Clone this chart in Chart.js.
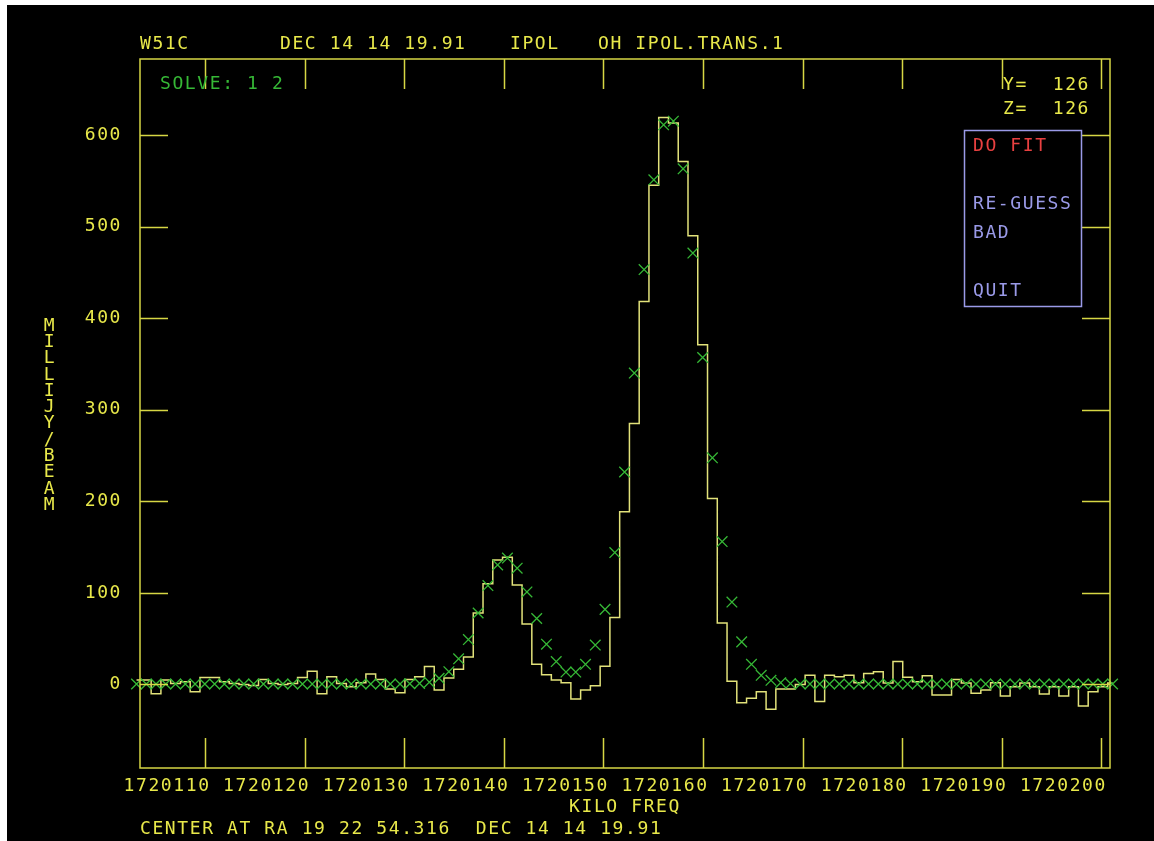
<!DOCTYPE html>
<html>
<head>
<meta charset="utf-8">
<script src="https://cdn.jsdelivr.net/npm/chart.js@4.4.0/dist/chart.umd.min.js"></script>
<style>
  html, body { margin: 0; padding: 0; background: #ffffff; overflow: hidden; }
  #wrap { position: absolute; left: 0; top: 0; width: 1154px; height: 841px; }
</style>
</head>
<body>
<div id="wrap"><canvas id="c" width="1154" height="841"></canvas></div>
<script>
// ---- channel grid (kHz) ----
const channelStart = 1720103.12;   // centre of first channel
const channelWidth = 0.98;         // channel spacing

// ---- observed spectrum (yellow histogram), mJy/beam per channel ----
const spectrum = [
  5, 5, -10, 5, 1, 3, -8, 7.5, 7.5, 3,
  1, 0, -1, 5.5, 1, 0, 1, 7.5, 14.5, -10,
  8.5, 1, -2.5, 2, 11.5, 5.5, -5, -9, 5.5, 8.5,
  19.5, -6, 7, 16.5, 30, 78, 110, 136, 139, 108.5,
  66, 22, 10.5, 5, 2, -16, -6, -1.5, 20, 73,
  188.5, 285, 418, 545, 619, 613, 571, 490, 371, 203,
  67, 3.5, -20, -15, -8, -27, -5, -5, 0, 10,
  -18.5, 10, 8.5, 10, 2, 12, 14, 1.5, 25, 8,
  3, 9.5, -11.5, -11.5, 5.5, 1.5, -9.5, -6, 2, -12.5,
  -2.5, 1.5, -2.5, -10.5, -2.5, -12.5, -2.5, -23.5, -8, -2.5,
  1.5
];

// ---- fitted model (green crosses), mJy/beam per channel ----
const fitModel = [
  0.5, 0.5, 0.5, 0.5, 0.5, 0.5, 0.5, 0.5, 0.5, 0.5,
  0.5, 0.5, 0.5, 0.5, 0.5, 0.5, 0.5, 0.5, 0.5, 0.5,
  0.5, 0.5, 0.5, 0.5, 0.5, 0.5, 0.5, 0.5, 0.8, 1.2,
  2.5, 6.8, 14, 28, 49, 78, 108, 130.5, 138, 127,
  101, 72, 44, 25, 13.5, 13.5, 22, 43, 82, 144,
  232, 340, 453, 551, 611, 615, 563, 471, 357, 247.5,
  156, 90, 46.5, 22, 10, 4.5, 2, 1, 0.5, 0.5,
  0.5, 0.5, 0.5, 0.5, 0.5, 0.5, 0.5, 0.5, 0.5, 0.5,
  0.5, 0.5, 0.5, 0.5, 0.5, 0.5, 0.5, 0.5, 0.5, 0.5,
  0.5, 0.5, 0.5, 0.5, 0.5, 0.5, 0.5, 0.5, 0.5, 0.5,
  0.5
];

// ---- axis ticks ----
const xTickValues = [1720110, 1720120, 1720130, 1720140, 1720150, 1720160, 1720170, 1720180, 1720190, 1720200];
const yTickValues = [0, 100, 200, 300, 400, 500, 600];
const xRange = [1720103.47, 1720200.86];
const yRange = [-91.2, 682.9];

// ---- texts ----
const xAxisTitle = 'KILO FREQ';
const yAxisTitle = 'MILLIJY/BEAM';
const headerTexts = [
  { text: 'W51C', x: 140, y: 44, color: 'yellow' },
  { text: 'DEC 14 14 19.91', x: 280, y: 44, color: 'yellow' },
  { text: 'IPOL', x: 510, y: 44, color: 'yellow' },
  { text: 'OH IPOL.TRANS.1', x: 598, y: 44, color: 'yellow' },
  { text: 'SOLVE: 1 2', x: 160, y: 84, color: 'green' },
  { text: 'Y=  126', x: 1003, y: 85, color: 'yellow' },
  { text: 'Z=  126', x: 1003, y: 109, color: 'yellow' },
  { text: 'DO FIT', x: 973, y: 146, color: 'red' },
  { text: 'RE-GUESS', x: 973, y: 204, color: 'lavender' },
  { text: 'BAD', x: 973, y: 233, color: 'lavender' },
  { text: 'QUIT', x: 973, y: 291, color: 'lavender' },
  { text: 'CENTER AT RA 19 22 54.316  DEC 14 14 19.91', x: 140, y: 829, color: 'yellow' }
];

const COLORS = {
  yellow: '#e8e84a',
  frame: '#d6d644',
  hist: '#e2e27a',
  green: '#36b836',
  red: '#e84040',
  lavender: '#9a9ae8'
};
const FONT = { family: "'DejaVu Sans Mono', 'Liberation Mono', monospace", size: 18 };
const FONT_STR = "18px 'DejaVu Sans Mono', 'Liberation Mono', monospace";

const histPoints = spectrum.map((v, k) => ({ x: channelStart + k * channelWidth, y: v }));
const fitPoints = fitModel.map((v, k) => ({ x: channelStart + k * channelWidth, y: v }));

const decorPlugin = {
  id: 'decor',
  beforeDraw(chart) {
    const ctx = chart.ctx;
    ctx.save();
    ctx.fillStyle = '#ffffff';
    ctx.fillRect(0, 0, chart.width, chart.height);
    ctx.fillStyle = '#000000';
    ctx.fillRect(7, 5, chart.width - 7, chart.height - 5);
    ctx.restore();
    try { ctx.letterSpacing = '1.6px'; } catch (e) {}
  },
  afterDraw(chart) {
    const ctx = chart.ctx;
    const a = chart.chartArea;
    const xs = chart.scales.x, ys = chart.scales.y;
    ctx.save();
    ctx.strokeStyle = COLORS.frame;
    ctx.lineWidth = 1.5;
    ctx.strokeRect(a.left, a.top, a.right - a.left, a.bottom - a.top);
    ctx.beginPath();
    yTickValues.forEach(v => {
      const p = Math.round(ys.getPixelForValue(v)) + 0.5;
      ctx.moveTo(a.left, p); ctx.lineTo(a.left + 28, p);
      ctx.moveTo(a.right, p); ctx.lineTo(a.right - 28, p);
    });
    xTickValues.forEach(v => {
      const p = Math.round(xs.getPixelForValue(v)) + 0.5;
      ctx.moveTo(p, a.top); ctx.lineTo(p, a.top + 30);
      ctx.moveTo(p, a.bottom); ctx.lineTo(p, a.bottom - 30);
    });
    ctx.stroke();

    // menu box
    ctx.strokeStyle = COLORS.lavender;
    ctx.lineWidth = 1.5;
    ctx.strokeRect(964.5, 130.5, 117, 176);

    // texts
    ctx.font = FONT_STR;
    try { ctx.letterSpacing = '1.6px'; } catch (e) {}
    ctx.textBaseline = 'middle';
    ctx.textAlign = 'left';
    headerTexts.forEach(t => {
      ctx.fillStyle = COLORS[t.color];
      ctx.fillText(t.text, t.x, t.y);
    });
    // stacked y-axis title
    ctx.textAlign = 'center';
    ctx.fillStyle = COLORS.yellow;
    const chars = yAxisTitle.split('');
    chars.forEach((ch, i) => ctx.fillText(ch, 50, 326 + i * 16.3));
    ctx.restore();
  }
};

new Chart(document.getElementById('c'), {
  type: 'line',
  data: {
    datasets: [
      {
        label: 'fit',
        data: fitPoints,
        showLine: false,
        pointStyle: 'crossRot',
        pointRadius: 7.5,
        pointBorderWidth: 1.3,
        pointBorderColor: COLORS.green,
        pointBackgroundColor: COLORS.green,
        borderColor: COLORS.green,
        order: 0,
        clip: 12
      },
      {
        label: 'spectrum',
        data: histPoints,
        stepped: 'middle',
        borderColor: COLORS.hist,
        borderWidth: 1.5,
        pointRadius: 0,
        fill: false,
        order: 1,
        clip: 12
      }
    ]
  },
  options: {
    responsive: false,
    animation: false,
    devicePixelRatio: 1,
    layout: { padding: { left: 0, right: 44, top: 59, bottom: 0 } },
    plugins: { legend: { display: false }, tooltip: { enabled: false }, title: { display: false } },
    scales: {
      x: {
        type: 'linear',
        position: 'bottom',
        min: xRange[0],
        max: xRange[1],
        afterBuildTicks: s => { s.ticks = xTickValues.map(v => ({ value: v })); },
        afterFit: s => { s.height = 73; },
        grid: { display: false, drawTicks: false },
        border: { display: false },
        ticks: {
          color: COLORS.yellow,
          font: FONT,
          padding: 8,
          labelOffset: -38,
          autoSkip: false,
          maxRotation: 0,
          minRotation: 0,
          callback: v => String(v)
        },
        title: {
          display: true,
          text: xAxisTitle,
          color: COLORS.yellow,
          font: FONT,
          padding: { top: 0, bottom: 23 }
        }
      },
      y: {
        type: 'linear',
        position: 'left',
        min: yRange[0],
        max: yRange[1],
        afterBuildTicks: s => { s.ticks = yTickValues.map(v => ({ value: v })); },
        afterFit: s => { s.width = 140; },
        grid: { display: false, drawTicks: false },
        border: { display: false },
        ticks: {
          color: COLORS.yellow,
          font: FONT,
          padding: 18,
          autoSkip: false,
          callback: v => String(v)
        }
      }
    }
  },
  plugins: [decorPlugin]
});
</script>
</body>
</html>
